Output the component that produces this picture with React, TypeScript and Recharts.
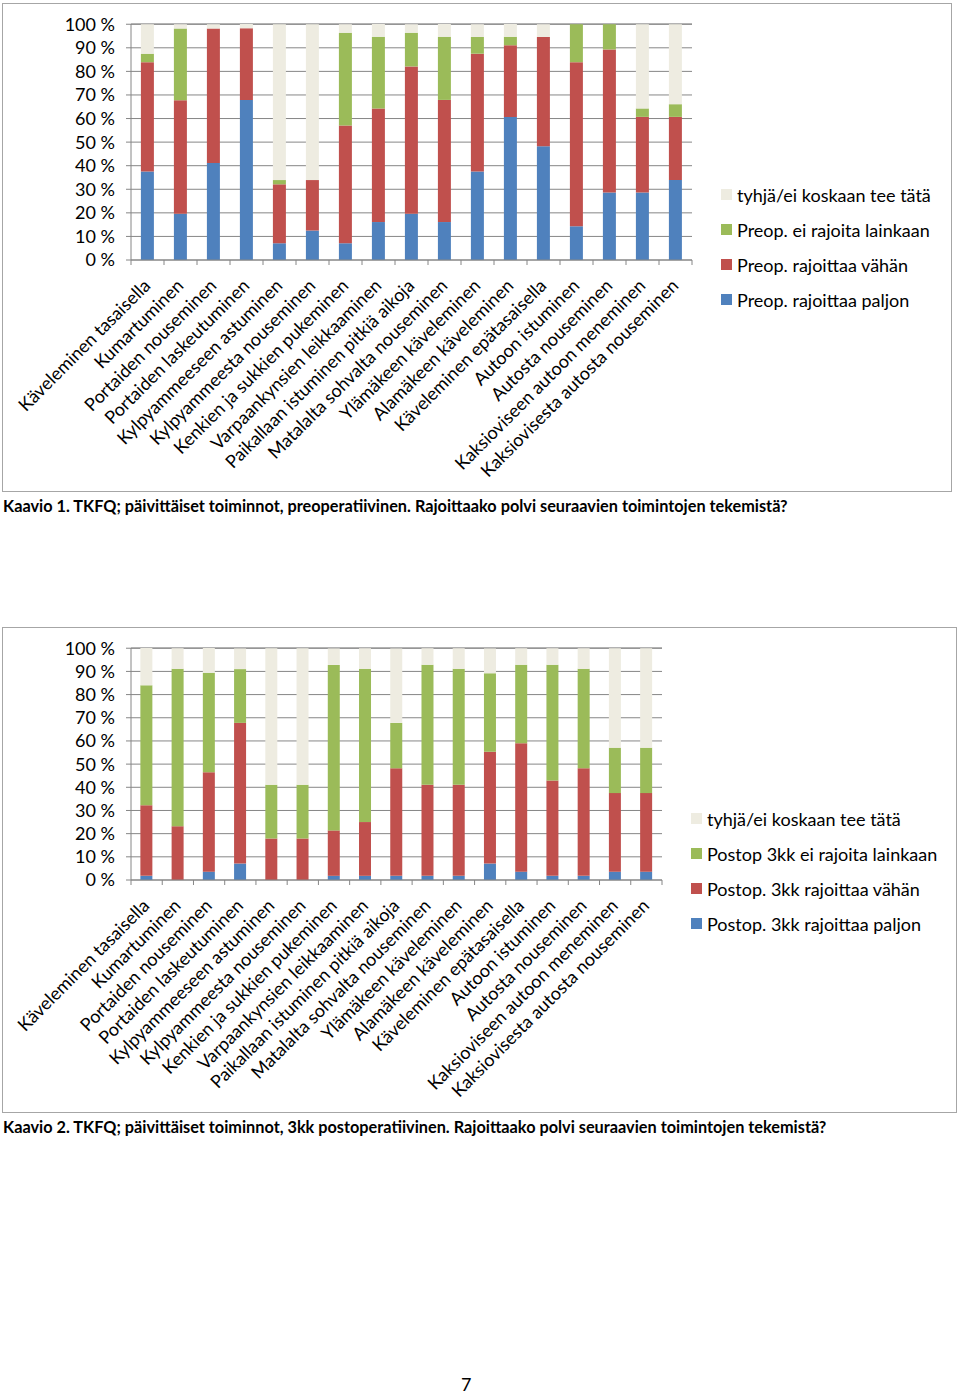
import { BarChart, Bar, XAxis, YAxis, CartesianGrid } from "recharts";

const categories = [
  "Käveleminen tasaisella",
  "Kumartuminen",
  "Portaiden nouseminen",
  "Portaiden laskeutuminen",
  "Kylpyammeeseen astuminen",
  "Kylpyammeesta nouseminen",
  "Kenkien ja sukkien pukeminen",
  "Varpaankynsien leikkaaminen",
  "Paikallaan istuminen pitkiä aikoja",
  "Matalalta sohvalta nouseminen",
  "Ylämäkeen käveleminen",
  "Alamäkeen käveleminen",
  "Käveleminen epätasaisella",
  "Autoon istuminen",
  "Autosta nouseminen",
  "Kaksioviseen autoon meneminen",
  "Kaksiovisesta autosta nouseminen",
];

const yTicks = [0, 10, 20, 30, 40, 50, 60, 70, 80, 90, 100];

// Kaavio 1 (preop), % of respondents
const preBlue = [37.5, 19.6, 41.1, 67.9, 7.1, 12.5, 7.1, 16.1, 19.6, 16.1, 37.5, 60.7, 48.2, 14.3, 28.6, 28.6, 33.9];
const preRed = [46.4, 48.2, 57.1, 30.4, 25.0, 21.4, 50.0, 48.2, 62.5, 51.8, 50.0, 30.4, 46.4, 69.6, 60.7, 32.1, 26.8];
const preGreen = [3.6, 30.4, 0, 0, 1.8, 0, 39.3, 30.4, 14.3, 26.8, 7.1, 3.6, 0, 16.1, 10.7, 3.6, 5.4];
const preEmpty = [12.5, 1.8, 1.8, 1.8, 66.1, 66.1, 3.6, 5.4, 3.6, 5.4, 5.4, 5.4, 5.4, 0, 0, 35.7, 33.9];

// Kaavio 2 (postop 3kk)
const postBlue = [1.8, 0, 3.6, 7.1, 0, 0, 1.8, 1.8, 1.8, 1.8, 1.8, 7.1, 3.6, 1.8, 1.8, 3.6, 3.6];
const postRed = [30.4, 23.2, 42.9, 60.7, 17.9, 17.9, 19.6, 23.2, 46.4, 39.3, 39.3, 48.2, 55.4, 41.1, 46.4, 33.9, 33.9];
const postGreen = [51.8, 67.9, 42.9, 23.2, 23.2, 23.2, 71.4, 66.1, 19.6, 51.8, 50.0, 33.9, 33.9, 50.0, 42.9, 19.6, 19.6];
const postEmpty = [16.1, 8.9, 10.7, 8.9, 58.9, 58.9, 7.1, 8.9, 32.1, 7.1, 8.9, 10.7, 7.1, 7.1, 8.9, 42.9, 42.9];

const preNames = ["Preop. rajoittaa paljon", "Preop. rajoittaa vähän", "Preop. ei rajoita lainkaan", "tyhjä/ei koskaan tee tätä"];
const postNames = ["Postop. 3kk rajoittaa paljon", "Postop. 3kk rajoittaa vähän", "Postop 3kk ei rajoita lainkaan", "tyhjä/ei koskaan tee tätä"];

const FONT = "Lato, 'Open Sans', sans-serif";
const AXIS = "#868686";
const BLUE = "#4F81BD";
const RED = "#C0504D";
const GREEN = "#9BBB59";
const EMPTY = "#EEECE1";
const COLORS = [BLUE, RED, GREEN, EMPTY];

function rows(blue: number[], red: number[], green: number[], empty: number[]) {
  return categories.map((name, i) => ({ name, blue: blue[i], red: red[i], green: green[i], empty: empty[i] }));
}

function CategoryTick(props: any) {
  const { x, y, payload, index, step } = props;
  return (
    <g>
      <line x1={x - step / 2} x2={x - step / 2} y1={y} y2={y + 5} stroke={AXIS} />
      {index === categories.length - 1 && (
        <line x1={x + step / 2} x2={x + step / 2} y1={y} y2={y + 5} stroke={AXIS} />
      )}
      <text
        transform={`translate(${x + 4},${y + 27}) rotate(-45)`}
        textAnchor="end"
        fontSize={18}
        fontFamily={FONT}
        fill="#000"
      >
        {payload.value}
      </text>
    </g>
  );
}

function LegendBox({ names, left }: { names: string[]; left: number }) {
  const order = [3, 2, 1, 0];
  return (
    <div style={{ position: "absolute", left, top: 173, fontFamily: FONT, fontSize: 18, color: "#000" }}>
      {order.map((i) => (
        <div key={names[i]} style={{ display: "flex", alignItems: "center", height: 35, whiteSpace: "nowrap" }}>
          <span style={{ width: 11, height: 11, background: COLORS[i], marginRight: 5, display: "inline-block" }} />
          {names[i]}
        </div>
      ))}
    </div>
  );
}

function StackChart(props: any) {
  const { data, names, width, height, plotRight, xHeight } = props;
  const step = (plotRight - 128) / categories.length;
  return (
    <BarChart
      width={width}
      height={height}
      data={data}
      barCategoryGap="30%"
      margin={{ top: 20, right: width - plotRight, bottom: 0, left: 66 }}
    >
      <CartesianGrid vertical={false} stroke={AXIS} strokeWidth={1} />
      <XAxis
        dataKey="name"
        interval={0}
        height={xHeight}
        tickLine={false}
        tickSize={0}
        tickMargin={0}
        stroke={AXIS}
        tick={(p: any) => <CategoryTick {...p} step={step} />}
      />
      <YAxis
        domain={[0, 100]}
        ticks={yTicks}
        width={62}
        interval={0}
        stroke={AXIS}
        tickSize={5}
        tickMargin={11}
        tickFormatter={(v) => `${v} %`}
        tick={{ fill: "#000", fontSize: 18, fontFamily: FONT }}
      />
      <Bar dataKey="blue" name={names[0]} stackId="s" fill={BLUE} isAnimationActive={false} />
      <Bar dataKey="red" name={names[1]} stackId="s" fill={RED} isAnimationActive={false} />
      <Bar dataKey="green" name={names[2]} stackId="s" fill={GREEN} isAnimationActive={false} />
      <Bar dataKey="empty" name={names[3]} stackId="s" fill={EMPTY} isAnimationActive={false} />
    </BarChart>
  );
}

const captionStyle: any = {
  position: "absolute",
  left: 3,
  fontFamily: FONT,
  fontWeight: 700,
  fontSize: 16.3,
  color: "#000",
  whiteSpace: "nowrap",
};

export default function App() {
  return (
    <div style={{ position: "absolute", left: 0, top: 0, width: 960, height: 1394, background: "#fff" }}>
      <div style={{ position: "absolute", left: 2, top: 3, width: 950, height: 489, border: "1.5px solid #a6a6a6", boxSizing: "border-box" }}>
        <StackChart
          data={rows(preBlue, preRed, preGreen, preEmpty)}
          names={preNames}
          width={947}
          height={486}
          plotRight={689}
          xHeight={230}
        />
        <LegendBox names={preNames} left={718} />
      </div>
      <div style={{ ...captionStyle, top: 496 }}>
        Kaavio 1. TKFQ; päivittäiset toiminnot, preoperatiivinen. Rajoittaako polvi seuraavien toimintojen tekemistä?
      </div>

      <div style={{ position: "absolute", left: 2, top: 627, width: 955, height: 486, border: "1.5px solid #a6a6a6", boxSizing: "border-box" }}>
        <StackChart
          data={rows(postBlue, postRed, postGreen, postEmpty)}
          names={postNames}
          width={952}
          height={483}
          plotRight={659}
          xHeight={231}
        />
        <LegendBox names={postNames} left={688} />
      </div>
      <div style={{ ...captionStyle, top: 1117 }}>
        Kaavio 2. TKFQ; päivittäiset toiminnot, 3kk postoperatiivinen. Rajoittaako polvi seuraavien toimintojen tekemistä?
      </div>

      <div style={{ position: "absolute", left: 461, top: 1373, fontFamily: FONT, fontSize: 18, color: "#000" }}>7</div>
    </div>
  );
}
